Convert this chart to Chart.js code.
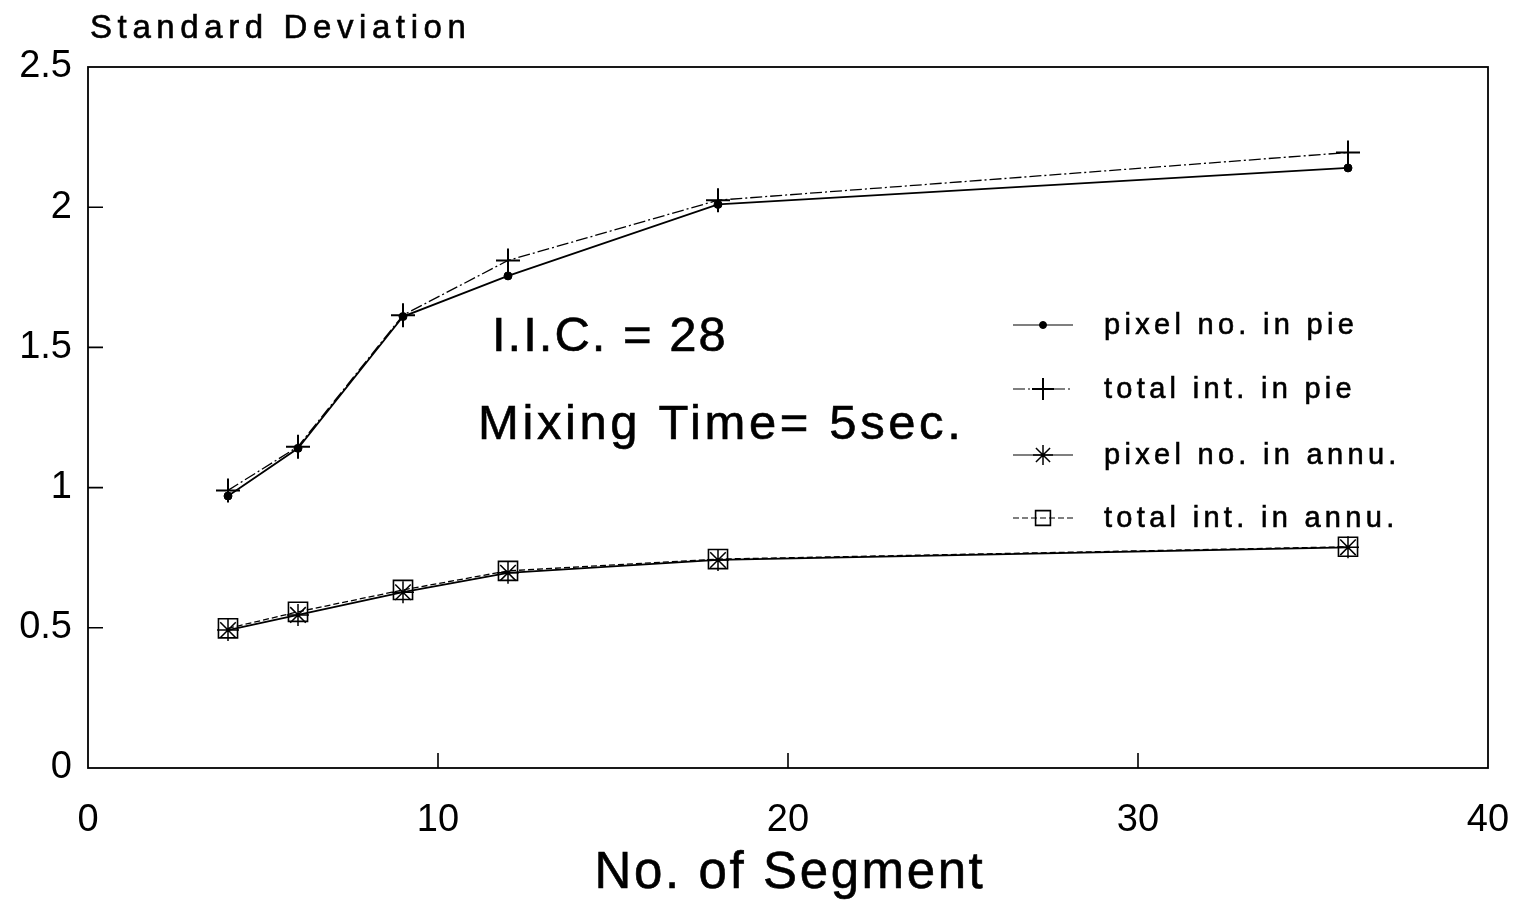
<!DOCTYPE html>
<html>
<head>
<meta charset="utf-8">
<title>Standard Deviation vs No. of Segment</title>
<script src="https://cdn.jsdelivr.net/npm/chart.js@4/dist/chart.umd.min.js"></script>
<style>
  html, body { margin: 0; padding: 0; background: #fff; }
  #wrap { width: 1526px; height: 903px; position: relative; }
</style>
</head>
<body>
<div id="wrap"><canvas id="sdChart"></canvas></div>
<script>
// values
const segments = [4, 6, 9, 12, 18, 36];
const pixelPie = [0.97, 1.14, 1.61, 1.755, 2.01, 2.14];
const totalPie = [0.99, 1.146, 1.615, 1.81, 2.025, 2.195];
const pixelAnnu = [0.492, 0.546, 0.627, 0.696, 0.742, 0.787];
const totalAnnu = [0.498, 0.557, 0.635, 0.703, 0.745, 0.789];

const xTicks = [0, 10, 20, 30, 40];
const yTicks = [0, 0.5, 1, 1.5, 2, 2.5];
const seriesNames = ['pixel no. in pie', 'total int. in pie', 'pixel no. in annu.', 'total int. in annu.'];

const FONT = '"Liberation Sans", Arial, Helvetica, sans-serif';

function pts(vals) {
    return segments.map((s, i) => ({ x: s, y: vals[i] }));
}

const styles = [
    { pointStyle: 'circle', radius: 4, legendRadius: 3.5, fill: '#000', width: 1.8, dash: [], pw: 1 },
    { pointStyle: 'cross', radius: 12, legendRadius: 11, fill: 'transparent', width: 1.3, dash: [12, 3, 2, 3], pw: 2 },
    { pointStyle: 'star', radius: 11, legendRadius: 10, fill: 'transparent', width: 1.8, dash: [], pw: 1.5 },
    { pointStyle: 'rect', radius: 13.5, legendRadius: 10.5, fill: 'transparent', width: 1.3, dash: [6, 3], pw: 1.6 }
];

const seriesData = [pixelPie, totalPie, pixelAnnu, totalAnnu];

const datasets = seriesData.map((vals, i) => ({
    label: seriesNames[i],
    data: pts(vals),
    borderColor: '#000',
    backgroundColor: styles[i].fill,
    borderWidth: styles[i].width,
    borderDash: styles[i].dash,
    pointStyle: styles[i].pointStyle,
    pointRadius: styles[i].radius,
    pointBorderWidth: styles[i].pw,
    pointBorderColor: '#000',
    pointBackgroundColor: styles[i].fill,
    tension: 0,
    fill: false
}));

function spacedText(ctx, text, x, y, size, spacing, align) {
    ctx.save();
    ctx.font = size + 'px ' + FONT;
    ctx.letterSpacing = spacing + 'px';
    ctx.fillStyle = '#000';
    ctx.strokeStyle = '#000';
    ctx.lineWidth = 0.6;
    ctx.textAlign = align || 'left';
    ctx.textBaseline = 'middle';
    ctx.fillText(text, x, y);
    ctx.strokeText(text, x, y);
    ctx.restore();
}

// frame, inward ticks, titles, notes and legend
const decorPlugin = {
    id: 'decor',
    afterDraw(chart) {
        const ctx = chart.ctx;
        const a = chart.chartArea;
        const xs = chart.scales.x, ys = chart.scales.y;
        ctx.save();
        ctx.strokeStyle = '#000';
        ctx.lineWidth = 1.8;
        ctx.strokeRect(a.left, a.top, a.right - a.left, a.bottom - a.top);
        ctx.lineWidth = 1.6;
        ctx.beginPath();
        xTicks.slice(1, -1).forEach(v => {
            const px = xs.getPixelForValue(v);
            ctx.moveTo(px, a.bottom);
            ctx.lineTo(px, a.bottom - 15);
        });
        yTicks.slice(1, -1).forEach(v => {
            const py = ys.getPixelForValue(v);
            ctx.moveTo(a.left, py);
            ctx.lineTo(a.left + 15, py);
        });
        ctx.stroke();
        ctx.restore();

        spacedText(ctx, 'Standard Deviation', 90, 29, 33, 5.6);
        spacedText(ctx, 'No. of Segment', 790, 874, 51, 2.6, 'center');
        spacedText(ctx, 'I.I.C. = 28', 492, 337, 49, 2.0);
        spacedText(ctx, 'Mixing Time= 5sec.', 478, 425, 49, 3.6);

        // legend
        const rows = [325, 389, 455, 518];
        rows.forEach((ry, i) => {
            const st = styles[i];
            ctx.save();
            ctx.strokeStyle = '#000';
            ctx.lineWidth = 1.2;
            ctx.setLineDash(st.dash);
            ctx.beginPath();
            ctx.moveTo(1013, ry);
            ctx.lineTo(1073, ry);
            ctx.stroke();
            ctx.setLineDash([]);
            ctx.fillStyle = st.fill;
            ctx.lineWidth = st.pw;
            Chart.helpers.drawPoint(ctx, {
                pointStyle: st.pointStyle,
                rotation: 0,
                radius: st.legendRadius,
                borderWidth: st.pw
            }, 1043, ry);
            ctx.restore();
            spacedText(ctx, seriesNames[i], 1104, ry + 1, 29, 4.3);
        });
    }
};

new Chart(document.getElementById('sdChart'), {
    type: 'line',
    data: { datasets: datasets },
    options: {
        responsive: true,
        maintainAspectRatio: false,
        animation: false,
        layout: { padding: { left: 0, right: 38, top: 67, bottom: 0 } },
        plugins: {
            legend: { display: false },
            tooltip: { enabled: false }
        },
        scales: {
            x: {
                type: 'linear',
                min: 0,
                max: 40,
                afterBuildTicks: s => { s.ticks = xTicks.map(v => ({ value: v })); },
                afterFit: s => { s.height = 135; s.paddingLeft = 0; s.paddingRight = 0; },
                grid: { display: false, drawTicks: false },
                border: { display: false },
                ticks: {
                    color: '#000',
                    padding: 30,
                    font: { family: FONT, size: 38 }
                }
            },
            y: {
                type: 'linear',
                min: 0,
                max: 2.5,
                afterBuildTicks: s => { s.ticks = yTicks.map(v => ({ value: v })); },
                afterFit: s => { s.width = 88; s.paddingTop = 0; s.paddingBottom = 0; },
                grid: { display: false, drawTicks: false },
                border: { display: false },
                ticks: {
                    color: '#000',
                    padding: 16,
                    font: { family: FONT, size: 38 },
                    callback: v => String(v)
                }
            }
        }
    },
    plugins: [decorPlugin]
});
</script>
</body>
</html>
